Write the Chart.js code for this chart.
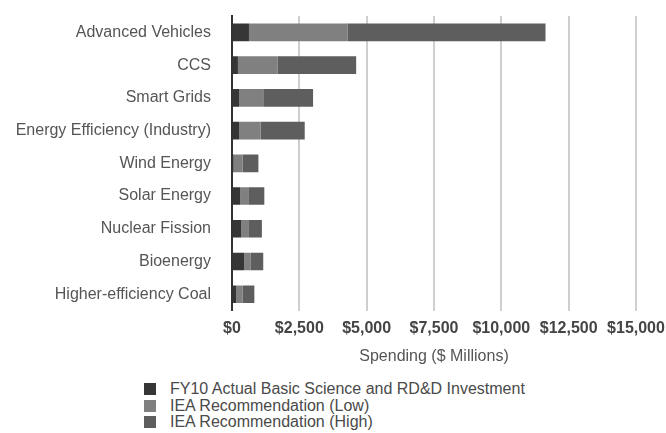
<!DOCTYPE html>
<html>
<head>
<meta charset="utf-8">
<script src="https://cdn.jsdelivr.net/npm/chart.js@4"></script>
<style>
  body { margin: 0; background: #fff; font-family: "Liberation Sans", Arial, sans-serif; }
  #wrap { position: relative; width: 666px; height: 433px; }
  #legende { position: absolute; left: 144px; top: 381px; font-size: 16px; color: #4a4a4a; }
  .eintrag { height: 16.5px; line-height: 16.5px; white-space: nowrap; }
  .kasten { display: inline-block; width: 12px; height: 12px; margin-right: 14px; vertical-align: -1px; }
</style>
</head>
<body>
<div id="wrap">
  <canvas id="ausgaben" width="666" height="372"></canvas>
  <div id="legende"></div>
</div>
<script>
const kategorien = [
    "Advanced Vehicles",
    "CCS",
    "Smart Grids",
    "Energy Efficiency (Industry)",
    "Wind Energy",
    "Solar Energy",
    "Nuclear Fission",
    "Bioenergy",
    "Higher-efficiency Coal",
];
const fy10Ist = [630, 220, 260, 260, 60, 300, 350, 450, 150];
const ieaNiedrig = [3670, 1480, 900, 800, 340, 330, 280, 250, 250];
const ieaHoch = [7340, 2910, 1850, 1640, 580, 570, 480, 460, 430];
const tickWerte = [0, 2500, 5000, 7500, 10000, 12500, 15000];

const farben = ["#363636", "#808080", "#5e5e5e"];
const namen = [
    "FY10 Actual Basic Science and RD&D Investment",
    "IEA Recommendation (Low)",
    "IEA Recommendation (High)",
];

const data = {
    labels: kategorien,
    datasets: [fy10Ist, ieaNiedrig, ieaHoch].map((werte, i) => ({
        label: namen[i],
        data: werte,
        backgroundColor: farben[i],
        borderWidth: 0,
        barPercentage: 0.54,
        categoryPercentage: 1,
    })),
};

Chart.defaults.font.family = '"Liberation Sans", Arial, sans-serif';
Chart.defaults.font.size = 16;
Chart.defaults.color = "#555";

new Chart(document.getElementById("ausgaben"), {
    type: "bar",
    data: data,
    options: {
        indexAxis: "y",
        responsive: false,
        animation: false,
        layout: { padding: { top: 16, right: 0, left: 0, bottom: 6 } },
        plugins: {
            legend: { display: false },
            tooltip: { enabled: false },
        },
        scales: {
            x: {
                stacked: true,
                min: 0,
                max: 15000,
                afterBuildTicks: (skala) => {
                    skala.ticks = tickWerte.map((v) => ({ value: v }));
                },
                afterFit: (skala) => {
                    skala.paddingRight = 30;
                },
                ticks: {
                    padding: 8,
                    color: "#444",
                    font: { weight: "bold", size: 16 },
                    maxRotation: 0,
                    callback: (v) => "$" + Number(v).toLocaleString("en-US"),
                },
                grid: { color: "#cfcfcf", lineWidth: 2, drawTicks: false },
                border: { display: false },
                title: {
                    display: true,
                    text: "Spending ($ Millions)",
                    color: "#555",
                    font: { size: 16 },
                    padding: { top: 1, bottom: 0 },
                },
            },
            y: {
                stacked: true,
                afterFit: (skala) => {
                    skala.width = 232;
                    skala.paddingTop = 0;
                    skala.paddingBottom = 0;
                },
                ticks: { padding: 21, color: "#555", font: { size: 16 } },
                grid: { display: false, drawTicks: false },
                border: { display: true, color: "#333", width: 2 },
            },
        },
    },
});

const legende = document.getElementById("legende");
namen.forEach((name, i) => {
    const zeile = document.createElement("div");
    zeile.className = "eintrag";
    const kasten = document.createElement("span");
    kasten.className = "kasten";
    kasten.style.background = farben[i];
    zeile.appendChild(kasten);
    zeile.appendChild(document.createTextNode(name));
    legende.appendChild(zeile);
});
</script>
</body>
</html>
